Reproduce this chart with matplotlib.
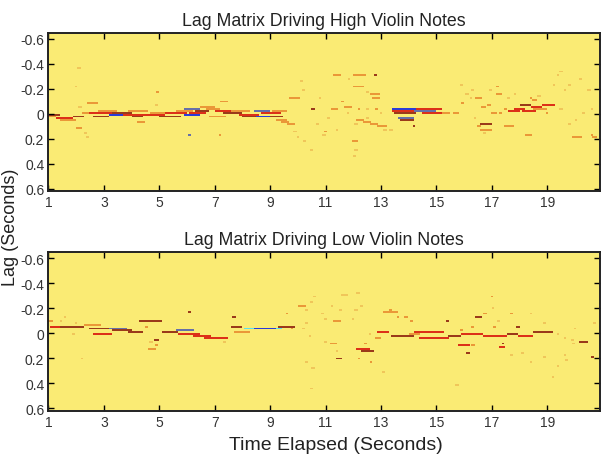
import numpy as np
import matplotlib
matplotlib.use("Agg")
import matplotlib.pyplot as plt
from matplotlib.colors import ListedColormap

titles = ["Lag Matrix Driving High Violin Notes", "Lag Matrix Driving Low Violin Notes"]
x_ticks = [1, 3, 5, 7, 9, 11, 13, 15, 17, 19]
y_ticks = [-0.6, -0.4, -0.2, 0, 0.2, 0.4, 0.6]
y_tick_labels = ["-0.6", "-0.4", "-0.2", "0", "0.2", "0.4", "0.6"]
t_range = (1.0, 20.9)
lag_range = (-0.645, 0.62)

# (debut, fin, lag, niveau) niveau: 1 pale, 2 orange, 3 rouge, 4 brun, 5 bleu, 6 cyan, 7 gris-bleu
high_segments = [
    (1.0, 1.4, 0.01, 4), (1.0, 1.3, 0.03, 2), (1.3, 1.9, 0.035, 3), (1.4, 2.0, 0.06, 2),
    (1.9, 2.3, 0.02, 4), (2.2, 2.5, -0.01, 2),
    (2.05, 2.15, -0.37, 1), (1.95, 2.05, -0.22, 1), (2.0, 2.2, 0.12, 2), (2.3, 2.4, 0.16, 1),
    (2.1, 2.2, -0.05, 1), (2.4, 2.8, -0.085, 2), (2.35, 2.5, 0.19, 1),
    (2.5, 3.3, 0.0, 3), (2.6, 3.2, 0.02, 4), (2.8, 3.5, -0.015, 2), (3.2, 3.8, 0.015, 5),
    (3.3, 4.0, -0.01, 4), (3.7, 4.5, 0.005, 3), (3.9, 4.6, -0.02, 2), (4.0, 4.4, 0.025, 4),
    (4.5, 5.2, 0.01, 3), (4.7, 5.3, -0.01, 2), (5.0, 5.8, 0.02, 4), (5.2, 6.0, -0.005, 3),
    (5.6, 6.2, -0.02, 2), (5.9, 6.5, -0.035, 7), (5.9, 6.5, 0.015, 5), (6.1, 6.7, 0.0, 3),
    (6.3, 6.8, -0.02, 4), (6.5, 7.0, -0.05, 2), (6.7, 7.2, -0.04, 2), (6.8, 7.4, 0.02, 2),
    (7.0, 7.8, -0.02, 3), (7.3, 8.0, 0.0, 4), (7.6, 8.3, -0.025, 2), (7.9, 8.6, 0.015, 3),
    (8.0, 8.7, 0.03, 4), (8.4, 9.0, -0.02, 7), (8.5, 9.1, 0.02, 5), (8.7, 9.4, 0.0, 3),
    (9.0, 9.5, 0.03, 4), (9.1, 9.6, -0.015, 2), (9.2, 9.6, 0.05, 2), (9.4, 9.7, 0.07, 2),
    (9.6, 9.9, 0.09, 2),
    (4.2, 4.5, 0.07, 2), (4.85, 4.95, -0.07, 1), (4.9, 5.0, -0.17, 2), (6.05, 6.15, 0.17, 7),
    (7.15, 7.25, 0.17, 2), (7.2, 7.5, -0.1, 2),
    (9.7, 10.1, -0.12, 2),
    (10.1, 10.2, -0.26, 1), (10.15, 10.25, -0.19, 1), (10.5, 10.6, -0.04, 4), (10.75, 10.85, -0.13, 1),
    (9.85, 9.95, 0.14, 1), (9.95, 10.05, 0.19, 1), (10.2, 10.3, 0.22, 1), (10.45, 10.55, 0.3, 1),
    (10.65, 10.75, 0.09, 1), (10.95, 11.05, 0.14, 2), (10.9, 11.0, 0.18, 1), (11.05, 11.15, 0.04, 1),
    (11.2, 11.45, -0.04, 2), (11.35, 11.45, 0.13, 1), (11.55, 11.7, -0.1, 2), (11.3, 11.55, -0.31, 2),
    (11.8, 11.9, -0.28, 1), (12.0, 12.45, -0.3, 2), (12.75, 12.85, -0.3, 4), (12.0, 12.4, -0.22, 2),
    (12.45, 12.55, -0.17, 1), (12.6, 12.95, -0.16, 2), (12.7, 12.95, -0.13, 2), (11.7, 11.95, -0.05, 2),
    (12.15, 12.25, -0.04, 2), (12.45, 12.55, -0.03, 1), (12.45, 12.55, 0.04, 1), (11.75, 11.85, 0.0, 1),
    (12.05, 12.15, 0.08, 1), (11.95, 12.15, 0.22, 2), (12.05, 12.15, 0.29, 1), (12.0, 12.1, 0.34, 1),
    (12.1, 12.4, 0.055, 2), (12.35, 12.65, 0.07, 2), (12.6, 12.9, 0.08, 2), (12.85, 13.2, 0.095, 2),
    (12.8, 12.9, -0.04, 2), (12.95, 13.05, -0.01, 1), (13.1, 13.2, 0.13, 1),
    (13.4, 14.6, -0.02, 3), (13.4, 14.3, -0.03, 5), (13.5, 14.3, -0.01, 4), (13.6, 14.2, 0.045, 7),
    (13.7, 14.2, 0.055, 4), (14.3, 15.2, -0.04, 3), (14.2, 15.0, -0.02, 7), (14.5, 15.3, -0.01, 3),
    (14.6, 15.2, -0.03, 3), (15.2, 15.5, -0.01, 2), (14.15, 14.25, 0.1, 4), (13.3, 13.45, 0.13, 1),
    (15.6, 15.8, 0.0, 2), (15.9, 16.0, -0.08, 2), (15.85, 15.95, -0.23, 1), (16.05, 16.15, -0.15, 1),
    (16.2, 16.3, -0.12, 1), (16.25, 16.35, -0.19, 1), (16.4, 16.65, -0.13, 2), (16.6, 16.8, -0.05, 2),
    (16.35, 16.45, 0.04, 1), (16.5, 16.6, 0.1, 2), (16.55, 17.0, 0.09, 4), (16.55, 17.0, 0.13, 2),
    (16.7, 16.8, 0.16, 1), (16.85, 16.95, -0.065, 2), (16.95, 17.2, 0.0, 2), (16.9, 17.0, -0.19, 1),
    (17.15, 17.25, -0.21, 2), (17.15, 17.35, -0.15, 2), (17.25, 17.35, 0.0, 2), (17.45, 17.55, -0.04, 2),
    (17.55, 17.65, -0.12, 1), (17.45, 17.8, 0.1, 2),
    (17.6, 18.0, -0.02, 3), (17.8, 18.2, -0.04, 3), (18.0, 18.4, -0.06, 4), (18.1, 18.6, -0.02, 3),
    (18.4, 18.8, -0.05, 3), (18.5, 19.0, -0.03, 2), (18.8, 19.25, -0.06, 3), (19.0, 19.3, -0.065, 3),
    (17.8, 17.9, -0.16, 1), (18.35, 18.45, -0.12, 2), (18.45, 18.65, -0.11, 2), (18.2, 18.45, 0.17, 2),
    (18.65, 18.75, -0.14, 1), (18.95, 19.05, 0.0, 2),
    (19.2, 19.3, -0.23, 1), (19.35, 19.45, -0.3, 1), (19.45, 19.55, -0.34, 1), (19.6, 19.7, -0.19, 1),
    (19.75, 19.85, -0.23, 1), (20.15, 20.25, -0.28, 1), (20.45, 20.55, -0.19, 1), (19.45, 19.55, -0.04, 1),
    (19.75, 19.85, 0.09, 1), (20.0, 20.1, 0.06, 1), (19.9, 20.25, 0.19, 2), (20.55, 20.65, 0.17, 2),
    (20.25, 20.35, 0.0, 1), (20.55, 20.65, -0.03, 1), (20.6, 20.8, 0.19, 2),
]

low_segments = [
    (1.0, 1.15, -0.09, 2), (1.05, 1.9, -0.05, 3), (1.4, 2.3, -0.055, 4),
    (1.55, 1.65, -0.13, 1), (1.4, 1.5, -0.1, 1), (1.85, 1.95, 0.01, 1), (2.15, 2.25, 0.21, 1),
    (1.95, 2.05, -0.08, 1),
    (2.3, 2.9, -0.06, 2), (2.5, 3.2, -0.035, 4), (2.6, 3.3, 0.005, 3), (3.2, 3.85, -0.03, 7),
    (3.3, 4.0, -0.015, 4), (3.9, 4.4, -0.01, 4), (4.3, 5.1, -0.09, 4), (4.5, 4.6, -0.05, 2),
    (4.65, 4.75, 0.07, 1), (4.8, 5.0, 0.06, 4), (4.85, 4.95, 0.1, 2), (4.6, 4.9, 0.13, 2),
    (5.1, 5.7, 0.0, 4), (5.6, 6.25, -0.025, 7), (5.7, 6.5, 0.01, 3), (6.05, 6.15, -0.165, 4),
    (6.2, 6.9, 0.025, 3), (6.6, 7.5, 0.035, 3), (6.7, 7.5, 0.045, 3), (7.3, 7.4, 0.07, 1),
    (7.65, 7.75, -0.13, 4), (7.6, 8.0, -0.045, 4), (7.7, 8.3, -0.005, 2),
    (8.05, 8.4, -0.04, 6), (8.4, 9.2, -0.04, 5), (8.5, 9.1, -0.03, 5), (9.2, 9.45, -0.04, 6),
    (9.3, 9.9, -0.055, 4), (9.55, 9.65, -0.16, 2), (9.75, 9.85, -0.03, 2),
    (10.0, 10.3, -0.21, 2), (10.25, 10.35, -0.19, 1), (10.45, 10.55, -0.25, 1), (10.55, 10.65, -0.29, 1),
    (10.15, 10.25, -0.03, 1), (10.25, 10.35, -0.08, 1), (10.4, 10.5, 0.03, 1), (10.25, 10.35, 0.24, 1),
    (10.5, 10.6, 0.28, 1), (10.45, 10.55, 0.45, 1), (10.85, 10.95, -0.15, 1), (10.95, 11.05, -0.11, 1),
    (10.95, 11.05, 0.07, 1), (11.15, 11.4, 0.08, 2), (11.35, 11.45, 0.15, 1), (11.3, 11.55, -0.1, 2),
    (11.2, 11.3, -0.21, 1), (11.5, 11.6, -0.19, 1), (11.55, 11.8, -0.3, 1), (12.1, 12.25, -0.32, 1),
    (12.05, 12.15, -0.19, 1), (12.25, 12.35, -0.21, 1), (11.95, 12.05, -0.11, 1), (11.35, 11.6, 0.21, 4),
    (12.15, 12.25, 0.21, 2), (12.6, 12.7, 0.24, 2),
    (12.1, 12.6, 0.13, 3), (12.3, 12.75, 0.14, 4), (12.4, 12.5, 0.09, 2), (12.55, 12.65, 0.01, 1),
    (12.8, 13.0, 0.04, 2), (13.05, 13.15, 0.31, 1), (13.1, 13.6, -0.17, 2), (13.55, 13.65, -0.13, 2),
    (13.85, 13.95, -0.12, 2), (14.05, 14.15, -0.1, 2), (13.3, 13.4, -0.18, 2),
    (12.85, 13.3, 0.0, 3), (13.35, 14.2, 0.027, 4), (14.2, 15.3, 0.0, 3), (14.35, 15.45, 0.04, 3),
    (14.0, 14.4, 0.015, 2), (15.4, 15.9, 0.027, 4), (15.9, 16.7, 0.013, 3), (16.7, 17.55, 0.027, 3),
    (17.55, 17.95, 0.013, 4), (17.95, 18.5, 0.027, 3), (18.5, 19.2, -0.013, 4),
    (15.75, 16.2, 0.1, 3), (16.25, 16.4, 0.1, 2), (16.1, 16.2, 0.16, 4), (17.25, 17.5, 0.12, 3),
    (17.65, 17.75, 0.17, 1), (18.05, 18.15, 0.16, 1), (18.35, 18.45, 0.24, 1), (18.85, 18.95, 0.19, 1),
    (19.35, 19.45, 0.27, 1), (19.15, 19.25, 0.35, 1), (15.35, 15.45, -0.1, 4), (15.85, 15.95, -0.027, 2),
    (16.25, 16.35, -0.053, 2), (16.4, 16.65, -0.13, 4), (16.7, 16.85, -0.15, 2), (16.95, 17.05, -0.29, 2),
    (17.0, 17.1, -0.2, 1), (17.05, 17.15, -0.053, 2), (17.2, 17.3, -0.1, 1), (17.65, 17.75, -0.15, 2),
    (17.9, 18.0, -0.053, 4), (18.35, 18.45, -0.16, 1), (17.35, 17.45, 0.08, 4), (18.85, 18.95, -0.08, 1),
    (19.35, 19.45, 0.01, 1), (19.6, 19.7, 0.04, 1), (19.85, 19.95, 0.05, 1), (19.95, 20.05, -0.04, 1),
    (19.9, 20.0, 0.08, 1), (20.15, 20.5, 0.067, 4), (20.55, 20.7, 0.19, 4), (20.65, 20.75, -0.08, 1),
    (19.6, 19.7, 0.17, 1), (19.65, 19.75, 0.22, 1), (15.7, 15.8, 0.42, 1),
]

couleurs = ["#FAEB74", "#F0C65A", "#EA9838", "#DC3018", "#9A3A1A", "#2A3CD8", "#5CE0F0", "#6670A8"]
cmap = ListedColormap(couleurs)

t_edges = np.arange(t_range[0], t_range[1] + 0.001, 0.04)
lag_edges = np.arange(lag_range[0], lag_range[1] + 0.001, 0.015)
t_centres = (t_edges[:-1] + t_edges[1:]) / 2


def matrice(segments):
    M = np.zeros((len(lag_edges) - 1, len(t_edges) - 1))
    for t0, t1, lag, niveau in segments:
        ligne = np.searchsorted(lag_edges, lag) - 1
        cols = (t_centres >= t0) & (t_centres < t1)
        M[ligne, cols] = niveau
    return M


plt.rcParams['font.family'] = ['Liberation Sans', 'DejaVu Sans']
fig = plt.figure(figsize=(6.06, 4.6), dpi=100)
positions = [[0.080, 0.582, 0.910, 0.344], [0.080, 0.105, 0.910, 0.344]]

for pos, titre, segs in zip(positions, titles, [high_segments, low_segments]):
    ax = fig.add_axes(pos)
    ax.pcolormesh(t_edges, lag_edges, matrice(segs), cmap=cmap, vmin=-0.5, vmax=7.5)
    ax.set_xlim(*t_range)
    ax.set_ylim(lag_range[1], lag_range[0])
    ax.set_xticks(x_ticks)
    ax.set_yticks(y_ticks)
    ax.set_yticklabels(y_tick_labels)
    ax.tick_params(direction="in", length=4, width=1, top=True, right=True,
                   labelsize=10, labelcolor="#333333", pad=3)
    for s in ax.spines.values():
        s.set_linewidth(1.4)
        s.set_color("#222222")
    ax.set_title(titre, fontsize=12.8, pad=6, color="#222222")

fig.text(0.555, 0.022, "Time Elapsed (Seconds)", ha="center", fontsize=14, color="#222222")
fig.text(0.004, 0.505, "Lag (Seconds)", va="center", rotation=90, fontsize=13, color="#222222")

fig.savefig("out.png", dpi=100)
